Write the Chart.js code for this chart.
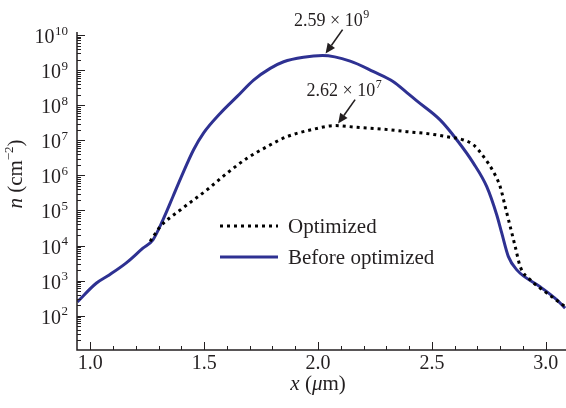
<!DOCTYPE html>
<html>
<head>
<meta charset="utf-8">
<script src="https://cdn.jsdelivr.net/npm/chart.js@4"></script>
<style>
  html, body { margin: 0; padding: 0; background: #fff; }
  #wrap { width: 566px; height: 408px; }
</style>
</head>
<body>
<div id="wrap"><canvas id="chart"></canvas></div>
<script>
// position x (um) and density n (cm^-2)
let xBefore = [0.943, 1.026, 1.083, 1.158, 1.231, 1.275, 1.319, 1.363, 1.399, 1.453, 1.497, 1.571, 1.644, 1.717, 1.790, 1.849, 1.936, 2.020, 2.141, 2.244, 2.331, 2.390, 2.434, 2.536, 2.610, 2.683, 2.741, 2.785, 2.807, 2.836, 2.873, 2.975, 3.049, 3.085]
let nBefore = [2.47e2, 8.4e2, 1.45e3, 3.2e3, 8.4e3, 1.45e4, 5.4e4, 2.5e5, 8.9e5, 5.3e6, 1.6e7, 5.9e7, 1.75e8, 5.2e8, 1.12e9, 1.73e9, 2.32e9, 2.59e9, 1.8e9, 9.0e8, 4.68e8, 2.29e8, 1.32e8, 3.8e7, 1.02e7, 2.2e6, 4.76e5, 7.4e4, 2.24e4, 4.83e3, 2.02e3, 6.7e2, 2.82e2, 1.64e2]

let xOpt = [1.263, 1.307, 1.395, 1.512, 1.600, 1.688, 1.776, 1.864, 1.966, 2.075, 2.171, 2.288, 2.390, 2.493, 2.566, 2.639, 2.683, 2.727, 2.770, 2.800, 2.822, 2.844, 2.866, 2.888, 2.932, 3.005, 3.085]
let nOpt = [1.31e4, 3.45e4, 1.03e5, 3.84e5, 1.15e6, 3.07e6, 6.58e6, 1.27e7, 1.96e7, 2.62e7, 2.34e7, 2.06e7, 1.76e7, 1.51e7, 1.27e7, 1.02e7, 7.35e6, 3.41e6, 1.27e6, 4.76e5, 1.28e5, 3.45e4, 9.3e3, 2.5e3, 1.05e3, 4.4e2, 1.82e2]

let seriesNames = ['Optimized', 'Before optimized']
let xTicks = [1.0, 1.5, 2.0, 2.5, 3.0]
let yExponents = [2, 3, 4, 5, 6, 7, 8, 9, 10]

// peaks that get an arrow and a label
let peaks = [
  { x: 2.020, n: 2.59e9, mant: '2.59', exp: '9' },
  { x: 2.075, n: 2.62e7, mant: '2.62', exp: '7' }
]

const SERIF = '"Liberation Serif", "DejaVu Serif", serif'
const BLUE = '#2e3192'
const INK = '#231f20'

function toPoints(xs, ys) {
  return xs.map((x, i) => ({ x: x, y: ys[i] }))
}

// "base" with a small raised exponent; align is 'left', 'center' or 'right'
function powerText(ctx, base, exp, x, y, align, size, esize) {
  ctx.font = size + 'px ' + SERIF
  let wb = ctx.measureText(base).width
  ctx.font = esize + 'px ' + SERIF
  let we = ctx.measureText(exp).width
  let w = wb + we + 0.5
  let x0 = align === 'right' ? x - w : align === 'center' ? x - w / 2 : x
  ctx.textAlign = 'left'
  ctx.textBaseline = 'alphabetic'
  ctx.font = size + 'px ' + SERIF
  ctx.fillText(base, x0, y)
  ctx.font = esize + 'px ' + SERIF
  ctx.fillText(exp, x0 + wb + 0.5, y - size * 0.42)
}

// pieces = [[text, font], ...], drawn one after another, centred on x
function mixedText(ctx, pieces, x, y) {
  let total = 0
  pieces.forEach(p => { ctx.font = p[1]; total += ctx.measureText(p[0]).width })
  let cx = x - total / 2
  ctx.textAlign = 'left'
  pieces.forEach(p => {
    ctx.font = p[1]
    ctx.fillText(p[0], cx, y + (p[2] || 0))
    cx += ctx.measureText(p[0]).width
  })
}

function arrow(ctx, x1, y1, x2, y2) {
  let a = Math.atan2(y2 - y1, x2 - x1)
  let hl = 10, hw = 4.5
  let bx = x2 - hl * Math.cos(a), by = y2 - hl * Math.sin(a)
  ctx.strokeStyle = INK
  ctx.fillStyle = INK
  ctx.lineWidth = 1.6
  ctx.setLineDash([])
  ctx.beginPath()
  ctx.moveTo(x1, y1)
  ctx.lineTo(bx, by)
  ctx.stroke()
  ctx.beginPath()
  ctx.moveTo(x2, y2)
  ctx.lineTo(bx + hw * Math.sin(a), by - hw * Math.cos(a))
  ctx.lineTo(bx - hw * Math.sin(a), by + hw * Math.cos(a))
  ctx.closePath()
  ctx.fill()
}

const decor = {
  id: 'decor',
  afterDatasetsDraw(chart) {
    let ctx = chart.ctx
    let xs = chart.scales.x, ys = chart.scales.y
    let a = chart.chartArea
    ctx.save()
    ctx.fillStyle = INK
    ctx.strokeStyle = INK

    // axis lines
    ctx.lineWidth = 1.5
    ctx.beginPath()
    ctx.moveTo(a.left, a.top)
    ctx.lineTo(a.left, a.bottom)
    ctx.lineTo(a.right, a.bottom)
    ctx.stroke()

    // x ticks, pointing inward
    ctx.lineWidth = 1
    for (let k = 10; k <= 30; k++) {
      let px = Math.round(xs.getPixelForValue(k / 10)) + 0.5
      let len = k % 5 === 0 ? 8 : 4
      ctx.beginPath()
      ctx.moveTo(px, a.bottom)
      ctx.lineTo(px, a.bottom - len)
      ctx.stroke()
    }
    // y ticks, pointing inward
    for (let e = 1; e <= 10; e++) {
      for (let m = 1; m <= 9; m++) {
        let v = m * Math.pow(10, e)
        if (v > ys.max || v < ys.min) continue
        let py = Math.round(ys.getPixelForValue(v)) + 0.5
        let len = m === 1 ? 8 : 4
        ctx.beginPath()
        ctx.moveTo(a.left, py)
        ctx.lineTo(a.left + len, py)
        ctx.stroke()
      }
    }

    // tick labels
    ctx.font = '20px ' + SERIF
    ctx.textAlign = 'center'
    ctx.textBaseline = 'alphabetic'
    xTicks.forEach(v => {
      ctx.fillText(v.toFixed(1), xs.getPixelForValue(v), a.bottom + 19)
    })
    yExponents.forEach(e => {
      powerText(ctx, '10', String(e), a.left - 9, ys.getPixelForValue(Math.pow(10, e)) + 8, 'right', 20, 13)
    })

    // axis titles
    ctx.textBaseline = 'alphabetic'
    let R = '21px ' + SERIF, I = 'italic 21px ' + SERIF
    mixedText(ctx, [['x', I], [' (', R], ['\u03bc', I], ['m)', R]], xs.getPixelForValue(2.0), 390)

    ctx.save()
    ctx.translate(22, 174)
    ctx.rotate(-Math.PI / 2)
    mixedText(ctx, [['n', I], [' (cm', R], ['\u22122', '13px ' + SERIF, -9], [')', R]], 0, 0)
    ctx.restore()

    // peak labels with arrows
    peaks.forEach(p => {
      let px = xs.getPixelForValue(p.x), py = ys.getPixelForValue(p.n)
      ctx.fillStyle = INK
      powerText(ctx, p.mant + ' \u00d7 10', p.exp, px + 9, py - 30, 'center', 18, 12)
      arrow(ctx, px + 20, py - 26, px + 3, py - 2)
    })

    // legend
    let lx1 = 220, lx2 = 278
    let ly = [226, 257]
    chart.data.datasets.forEach((ds, i) => {
      ctx.strokeStyle = ds.borderColor
      ctx.lineWidth = ds.borderWidth
      ctx.setLineDash(ds.borderDash || [])
      ctx.beginPath()
      ctx.moveTo(lx1, ly[i])
      ctx.lineTo(lx2, ly[i])
      ctx.stroke()
      ctx.setLineDash([])
      ctx.fillStyle = INK
      ctx.font = '21px ' + SERIF
      ctx.textAlign = 'left'
      ctx.textBaseline = 'middle'
      ctx.fillText(ds.label, 288, ly[i] + 1)
    })
    ctx.restore()
  }
}

let ctx = document.getElementById('chart').getContext('2d')

let chart = new Chart(ctx, {
  type: 'line',
  data: {
    datasets: [
      {
        label: seriesNames[0],
        data: toPoints(xOpt, nOpt),
        borderColor: '#000000',
        borderWidth: 3,
        borderDash: [3, 4],
        pointRadius: 0,
        cubicInterpolationMode: 'monotone',
        order: 0
      },
      {
        label: seriesNames[1],
        data: toPoints(xBefore, nBefore),
        borderColor: BLUE,
        borderWidth: 3,
        pointRadius: 0,
        cubicInterpolationMode: 'monotone',
        order: 1
      }
    ]
  },
  options: {
    responsive: true,
    maintainAspectRatio: false,
    animation: false,
    layout: { padding: { left: 77, top: 32, right: 0, bottom: 58 } },
    plugins: {
      legend: { display: false },
      tooltip: { enabled: false }
    },
    scales: {
      x: {
        type: 'linear',
        display: false,
        min: 0.9415,
        max: 3.089
      },
      y: {
        type: 'logarithmic',
        display: false,
        min: 10.5,
        max: 1.22e10
      }
    }
  },
  plugins: [decor]
})
</script>
</body>
</html>
